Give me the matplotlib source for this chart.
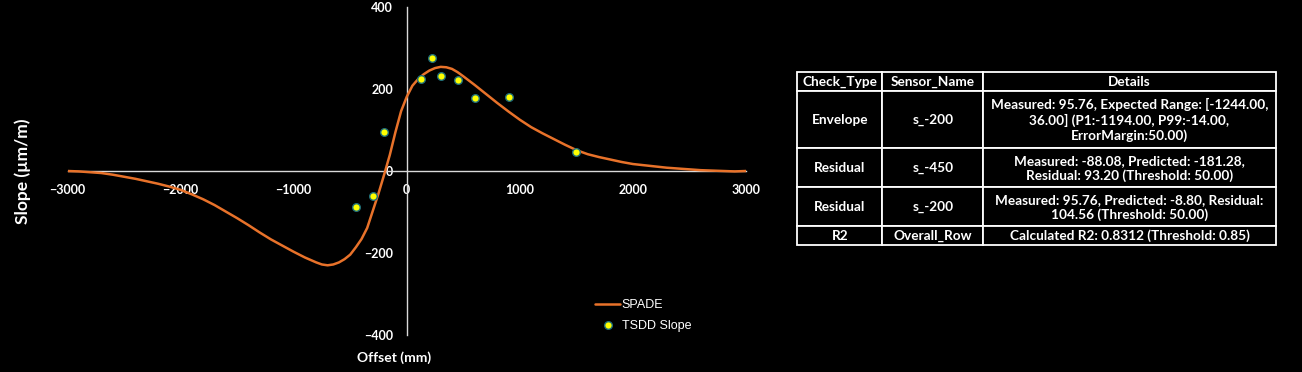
import matplotlib
matplotlib.use("Agg")
import matplotlib.pyplot as plt
from matplotlib.patches import Rectangle

# ---------------- data ----------------
spade_x = [-3000, -2900, -2800, -2700, -2600, -2500, -2400, -2300, -2200, -2100,
           -2000, -1900, -1800, -1700, -1600, -1500, -1400, -1300, -1200, -1100,
           -1000, -900, -800, -750, -700, -650, -600, -550, -500, -450, -400,
           -350, -300, -250, -200, -150, -100, -50, 0, 50, 100, 150, 200, 250,
           300, 350, 400, 450, 500, 600, 700, 800, 900, 1000, 1100, 1200, 1300,
           1400, 1500, 1600, 1700, 1800, 1900, 2000, 2100, 2200, 2300, 2400,
           2500, 2600, 2700, 2800, 2900, 3000]
spade_y = [0, -1, -3, -5, -9, -14, -19, -25, -31, -38,
           -46, -57, -69, -83, -99, -115, -132, -150, -167, -182,
           -197, -211, -223, -228, -230, -228, -223, -215, -204, -186, -166,
           -139, -97, -55, -9, 39, 95, 146, 181, 208, 224, 236, 245, 251,
           254, 253, 249, 241, 231, 210, 188, 166, 145, 125, 107, 92, 78,
           64, 51, 41, 34, 28, 22, 17, 14, 11, 8, 6,
           4, 2, 1, 0, -1, 0]

tsdd_x = [-450, -300, -200, 125, 220, 300, 450, 600, 900, 1500]
tsdd_y = [-88.08, -61, 95.76, 224, 275, 232, 221, 177, 180, 47]

x_ticks = [-3000, -2000, -1000, 0, 1000, 2000, 3000]
y_ticks = [-400, -200, 0, 200, 400]

table_header = ["Check_Type", "Sensor_Name", "Details"]
table_rows = [
    ["Envelope", "s_-200",
     "Measured: 95.76, Expected Range: [-1244.00,\n36.00] (P1:-1194.00, P99:-14.00,\nErrorMargin:50.00)"],
    ["Residual", "s_-450",
     "Measured: -88.08, Predicted: -181.28,\nResidual: 93.20 (Threshold: 50.00)"],
    ["Residual", "s_-200",
     "Measured: 95.76, Predicted: -8.80, Residual:\n104.56 (Threshold: 50.00)"],
    ["R2", "Overall_Row", "Calculated R2: 0.8312 (Threshold: 0.85)"],
]

# ---------------- figure ----------------
W, H = 1302, 372
fig = plt.figure(figsize=(W / 100, H / 100), dpi=100, facecolor="black")

def fx(px):
    return px / W

def fy(py):
    return 1 - py / H

FONT = ["Lato", "DejaVu Sans"]
AX_COLOR = "#d9d9d9"

ax = fig.add_axes([fx(67.5), fy(335), (746 - 67.5) / W, (335 - 7) / H])
ax.set_facecolor("black")
ax.set_xlim(-3000, 3000)
ax.set_ylim(-400, 400)

for s in ["top", "right"]:
    ax.spines[s].set_visible(False)
ax.spines["left"].set_position(("data", 0))
ax.spines["bottom"].set_position(("data", 0))
for s in ["left", "bottom"]:
    ax.spines[s].set_color(AX_COLOR)
    ax.spines[s].set_linewidth(1.0)

ax.set_xticks(x_ticks)
ax.set_yticks(y_ticks)
ax.tick_params(axis="both", length=0, colors="white")
ax.tick_params(axis="x", pad=9)
ax.tick_params(axis="y", pad=10)
for lab in ax.get_xticklabels() + ax.get_yticklabels():
    lab.set_fontfamily(FONT)
    lab.set_fontweight("bold")
    lab.set_fontsize(9)
    lab.set_color("white")

line, = ax.plot(spade_x, spade_y, color="#E8722A", lw=1.8, label="SPADE",
                solid_capstyle="round", solid_joinstyle="round", zorder=3)
pts = ax.scatter(tsdd_x, tsdd_y, s=30, facecolor="#FFFF00",
                 edgecolor="#1F6F7A", linewidth=1.0, label="TSDD Slope", zorder=4)

fig.text(fx(23), fy(171), "Slope (\u00b5m/m)", rotation=90, ha="center",
         va="center", color="white", fontsize=12.5, fontweight="bold",
         family=FONT)
fig.text(fx(394), fy(358), "Offset (mm)", ha="center", va="center",
         color="white", fontsize=10, fontweight="bold", family=FONT)

leg = fig.legend(handles=[line, pts], loc="upper left",
                 bbox_to_anchor=(fx(590), fy(294)), frameon=False,
                 prop={"family": "Liberation Sans", "size": 9},
                 handlelength=2.0, handletextpad=0.15, labelspacing=0.7,
                 borderaxespad=0)
for t in leg.get_texts():
    t.set_color("white")

# ---------------- table ----------------
col_edges = [797.3, 882.3, 983.3, 1275.7]
row_edges = [71.7, 90.7, 148.3, 187.3, 226.0, 245.0]
tax = fig.add_axes([fx(col_edges[0]), fy(row_edges[-1]),
                    (col_edges[-1] - col_edges[0]) / W,
                    (row_edges[-1] - row_edges[0]) / H])
tax.set_xlim(col_edges[0], col_edges[-1])
tax.set_ylim(row_edges[-1], row_edges[0])
tax.axis("off")

all_rows = [table_header] + table_rows
for r, row in enumerate(all_rows):
    y0, y1 = row_edges[r], row_edges[r + 1]
    for c, txt in enumerate(row):
        x0, x1 = col_edges[c], col_edges[c + 1]
        tax.add_patch(Rectangle((x0, y0), x1 - x0, y1 - y0, facecolor="black",
                                edgecolor="white", linewidth=1.3,
                                clip_on=False))
        tax.text((x0 + x1) / 2, (y0 + y1) / 2 + 0.5, txt, ha="center",
                 va="center", color="white", fontsize=9.8, fontweight="bold",
                 family=FONT, linespacing=1.2, multialignment="center")

fig.savefig("out.png", dpi=100, facecolor="black")
